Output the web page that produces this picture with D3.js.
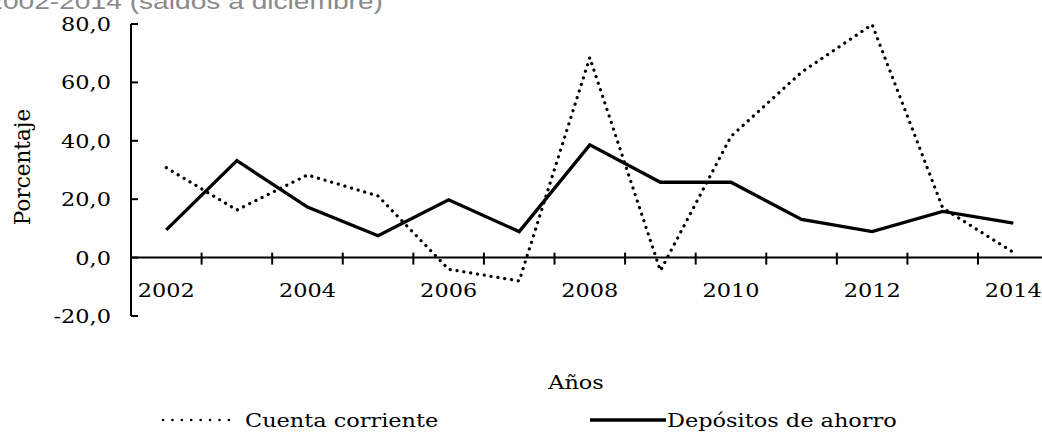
<!DOCTYPE html>
<html>
<head>
<meta charset="utf-8">
<script src="https://cdn.jsdelivr.net/npm/d3@7"></script>
<style>
  html, body { margin: 0; padding: 0; background: #fff; overflow: hidden; }
  svg { display: block; }
</style>
</head>
<body>
<svg id="chart" width="1042" height="432"></svg>
<script>
const years = [2002, 2003, 2004, 2005, 2006, 2007, 2008, 2009, 2010, 2011, 2012, 2013, 2014];
const cuentaCorriente = [30.8, 16.3, 28.3, 21.1, -4.0, -8.0, 68.5, -4.5, 41.5, 63.5, 79.8, 17.0, 1.8];
const depositosAhorro = [9.5, 33.2, 17.3, 7.5, 19.8, 8.9, 38.6, 25.8, 25.8, 13.1, 8.9, 15.8, 11.8];
const yTicks = [-20, 0, 20, 40, 60, 80];
const xTickLabels = [2002, 2004, 2006, 2008, 2010, 2012, 2014];
const seriesNames = ["Cuenta corriente", "Depósitos de ahorro"];
const titleText = "2002-2014 (saldos a diciembre)";
const yTitle = "Porcentaje";
const xTitle = "Años";

const svg = d3.select("#chart");
const FONT = "'DejaVu Serif', serif";
const SX = 1.18;   // horizontal stretch of the reference's serif font
const FS = 19;

const x = d3.scaleBand().domain(years).range([131, 1048.6]).padding(0);
const y = d3.scaleLinear().domain([-20, 80]).range([316, 24]);
const cx = d => x(d) + x.bandwidth() / 2;

function stretchedText(g, tx, ty, str, anchor) {
  return g.append("text")
    .attr("transform", `translate(${tx},${ty}) scale(${SX},1)`)
    .attr("text-anchor", anchor)
    .attr("font-family", FONT)
    .attr("font-size", FS)
    .attr("fill", "#000")
    .text(str);
}

// Title (clipped at top in the reference)
svg.append("text")
  .attr("transform", `translate(383,9) scale(1.28,1)`)
  .attr("text-anchor", "end")
  .attr("font-family", "'Liberation Sans', Arial, sans-serif")
  .attr("font-size", 22)
  .attr("fill", "#8a8a8a")
  .text(titleText);

// Y axis
const yAxis = svg.append("g");
yAxis.append("line")
  .attr("x1", x.range()[0]).attr("x2", x.range()[0])
  .attr("y1", y(80)).attr("y2", y(-20))
  .attr("stroke", "#000").attr("stroke-width", 2);
yTicks.forEach(t => {
  yAxis.append("line")
    .attr("x1", x.range()[0]).attr("x2", x.range()[0] + 7)
    .attr("y1", y(t)).attr("y2", y(t))
    .attr("stroke", "#000").attr("stroke-width", 2);
  const lbl = t.toFixed(1).replace(".", ",");
  stretchedText(yAxis, 111, y(t) + 7, lbl, "end");
});

// X axis at zero
const xAxis = svg.append("g");
xAxis.append("line")
  .attr("x1", x.range()[0] - 1).attr("x2", 1042)
  .attr("y1", y(0)).attr("y2", y(0))
  .attr("stroke", "#000").attr("stroke-width", 2);
years.forEach(yr => {
  const bx = x(yr);
  if (bx > x.range()[0] + 1) {
    xAxis.append("line")
      .attr("x1", bx).attr("x2", bx)
      .attr("y1", y(0) - 5).attr("y2", y(0) + 7)
      .attr("stroke", "#000").attr("stroke-width", 2);
  }
});
xTickLabels.forEach(yr => {
  stretchedText(xAxis, cx(yr), 297, String(yr), "middle");
});

// Axis titles
stretchedText(svg, 576, 389, xTitle, "middle");
svg.append("text")
  .attr("transform", `translate(30,167) rotate(-90)`)
  .attr("text-anchor", "middle")
  .attr("font-family", FONT)
  .attr("font-size", 21.5)
  .text(yTitle);

// Lines
const line = d3.line().x((d, i) => cx(years[i])).y(d => y(d));
svg.append("path")
  .datum(cuentaCorriente)
  .attr("d", line)
  .attr("fill", "none")
  .attr("stroke", "#000")
  .attr("stroke-width", 3.2)
  .attr("stroke-linecap", "round")
  .attr("stroke-dasharray", "0.1 6.8");
svg.append("path")
  .datum(depositosAhorro)
  .attr("d", line)
  .attr("fill", "none")
  .attr("stroke", "#000")
  .attr("stroke-width", 3.3)
  .attr("stroke-linejoin", "miter");

// Legend
const lg = svg.append("g");
lg.append("line")
  .attr("x1", 163).attr("x2", 238).attr("y1", 420).attr("y2", 420)
  .attr("stroke", "#000").attr("stroke-width", 2.5)
  .attr("stroke-linecap", "round").attr("stroke-dasharray", "0.1 9.3");
stretchedText(lg, 245, 427, seriesNames[0], "start");
lg.append("line")
  .attr("x1", 590).attr("x2", 666).attr("y1", 420).attr("y2", 420)
  .attr("stroke", "#000").attr("stroke-width", 3.3);
stretchedText(lg, 667, 427, seriesNames[1], "start");
</script>
</body>
</html>
